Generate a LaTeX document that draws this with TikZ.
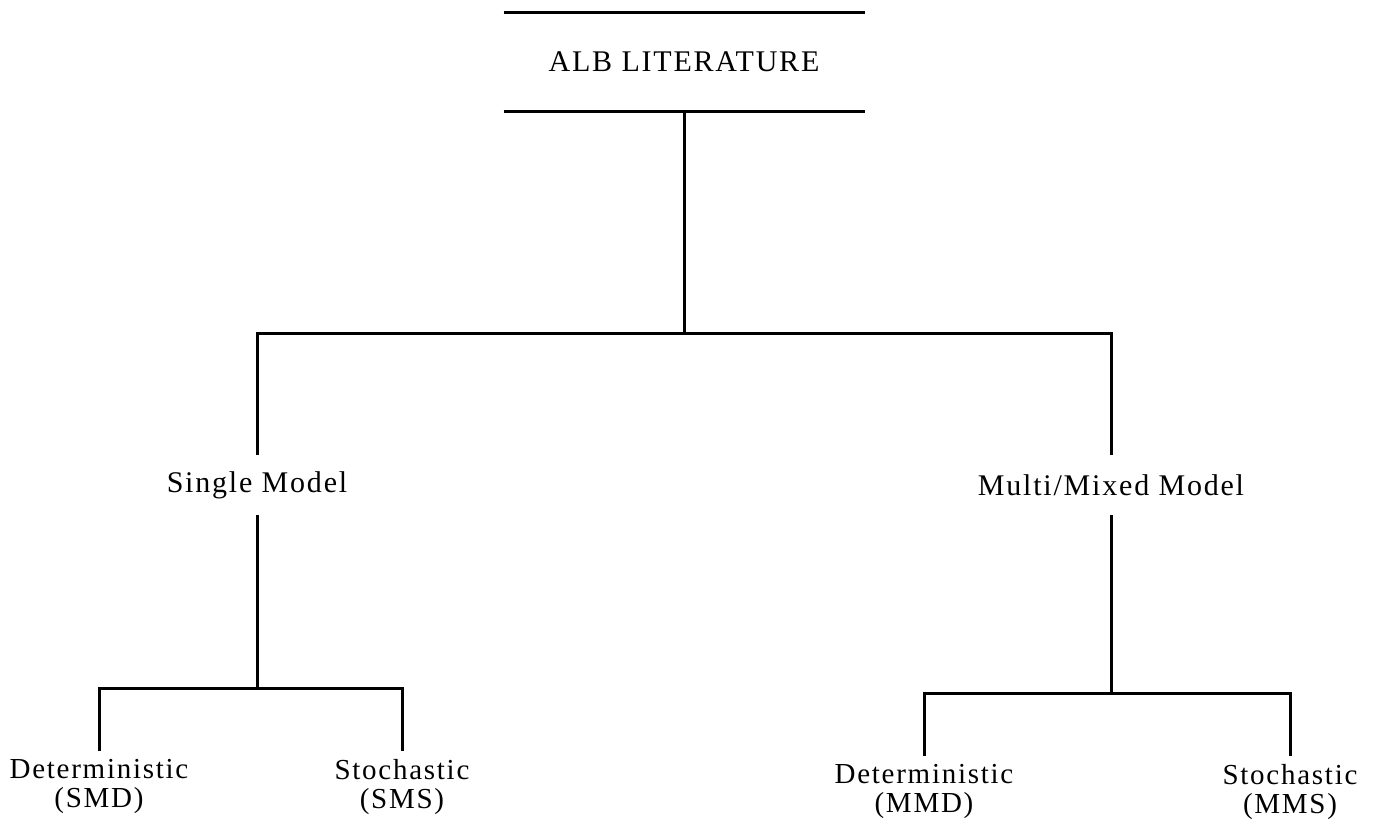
\documentclass[tikz,border=0pt]{standalone}
\usepackage{fontspec}
\setmainfont{Liberation Serif}[LetterSpace=6]
\begin{document}
\begin{tikzpicture}[x=1pt,y=-1pt,
    line width=3pt,
    every node/.style={font=\fontsize{30}{29}\selectfont, inner sep=0pt},
    branch/.style={minimum height=57pt},
    leaf/.style={font=\fontsize{29}{29}\selectfont, align=center, anchor=north, inner ysep=7pt}]
  \useasboundingbox (0,0) rectangle (1387,820);

  % root heading between two rules
  \node[minimum width=358pt, minimum height=96pt] (root) at (684,62) {ALB LITERATURE};
  \draw (root.north west) -- (root.north east);
  \draw (root.south west) -- (root.south east);

  % second level
  \node[branch] (single) at (257,485) {Single Model};
  \node[branch] (multi)  at (1111,485) {Multi/Mixed Model};

  % third level
  \node[leaf] (smd) at (99,751)   {Deterministic\\(SMD)};
  \node[leaf] (sms) at (402,751)  {Stochastic\\(SMS)};
  \node[leaf] (mmd) at (924,756)  {Deterministic\\(MMD)};
  \node[leaf] (mms) at (1290,756) {Stochastic\\(MMS)};

  % connectors
  \draw (root.south) -- ++(0,222) coordinate (j1);
  \draw (single.north) |- (j1) -| (multi.north);

  \draw (single.south) -- ++(0,173) coordinate (j2);
  \draw (smd.north) |- (j2) -| (sms.north);

  \draw (multi.south) -- ++(0,178) coordinate (j3);
  \draw (mmd.north) |- (j3) -| (mms.north);
\end{tikzpicture}
\end{document}
